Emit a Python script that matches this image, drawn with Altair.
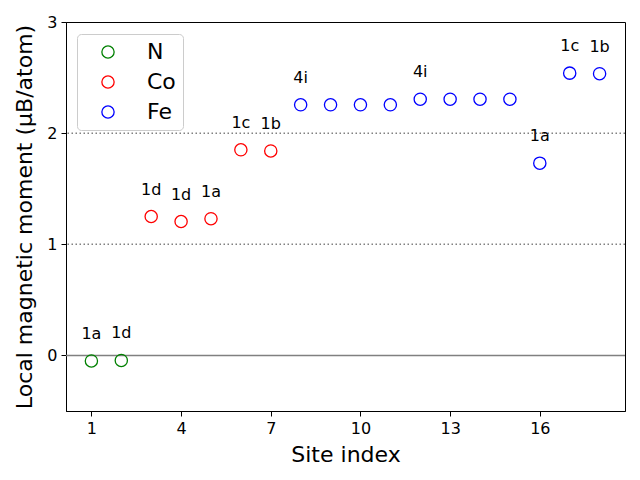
import altair as alt
import pandas as pd

sites = list(range(1, 19))
moments = [-0.05, -0.045, 1.25, 1.205, 1.23, 1.85, 1.84,
           2.255, 2.255, 2.255, 2.255, 2.305, 2.305, 2.305, 2.305,
           1.73, 2.54, 2.535]
elements = ["N", "N", "Co", "Co", "Co", "Co", "Co",
            "Fe", "Fe", "Fe", "Fe", "Fe", "Fe", "Fe", "Fe",
            "Fe", "Fe", "Fe"]
wyckoff = ["1a", "1d", "1d", "1d", "1a", "1c", "1b",
           "4i", "", "", "", "4i", "", "", "",
           "1a", "1c", "1b"]
element_order = ["N", "Co", "Fe"]
element_colors = ["green", "red", "blue"]
ref_solid = [0]
ref_dotted = [1, 2]
x_ticks = [1, 4, 7, 10, 13, 16]
y_ticks = [0, 1, 2, 3]

df = pd.DataFrame({"site": sites, "moment": moments,
                   "element": elements, "label": wyckoff})

xs = alt.Scale(domain=[0.15, 18.85], nice=False, zero=False)
ys = alt.Scale(domain=[-0.5, 3], nice=False, zero=False)

x_enc = alt.X("site:Q", scale=xs, title="Site index",
              axis=alt.Axis(values=x_ticks, format="d"))
y_enc = alt.Y("moment:Q", scale=ys, title="Local magnetic moment (μB/atom)",
              axis=alt.Axis(values=y_ticks, format="d"))

solid = alt.Chart(pd.DataFrame({"v": ref_solid})).mark_rule(
    color="gray", strokeWidth=1.5
).encode(y=alt.Y("v:Q", scale=ys))

dotted = alt.Chart(pd.DataFrame({"v": ref_dotted})).mark_rule(
    color="gray", strokeWidth=1.5, strokeDash=[1.5, 2.5]
).encode(y=alt.Y("v:Q", scale=ys))

points = alt.Chart(df).mark_point(
    shape="circle", filled=False, size=150, strokeWidth=1.3, opacity=1
).encode(
    x=x_enc, y=y_enc,
    color=alt.Color("element:N",
                    scale=alt.Scale(domain=element_order, range=element_colors),
                    sort=element_order,
                    legend=alt.Legend(title=None, orient="none", legendX=11, legendY=12,
                                      labelFontSize=22, symbolSize=150,
                                      symbolStrokeWidth=1.3, symbolType="circle",
                                      symbolOffset=13, labelOffset=28, rowPadding=8,
                                      padding=7, strokeColor="#cccccc",
                                      fillColor="rgba(255,255,255,0.8)",
                                      cornerRadius=4, labelColor="black"))
)

labels = alt.Chart(df).transform_filter("datum.label != ''").mark_text(
    fontSize=16, dy=-22, baseline="alphabetic", align="center", color="black"
).encode(x=x_enc, y=y_enc, text="label:N")

chart = alt.layer(solid, dotted, points, labels).properties(
    width=559, height=389,
    autosize=alt.AutoSizeParams(type="none"),
    padding={"left": 58, "top": 14, "right": 2, "bottom": 62}
).configure(font="DejaVu Sans").configure_view(
    stroke="black", strokeWidth=1
).configure_axis(
    grid=False, domainColor="black", tickColor="black", tickSize=5,
    labelFontSize=16, labelColor="black", titleFontSize=22,
    titleFontWeight="normal", titleColor="black", labelPadding=4
).configure_axisX(titlePadding=8).configure_axisY(titlePadding=10)

chart.save("out.html", embed_options={"renderer": "svg", "actions": False})
